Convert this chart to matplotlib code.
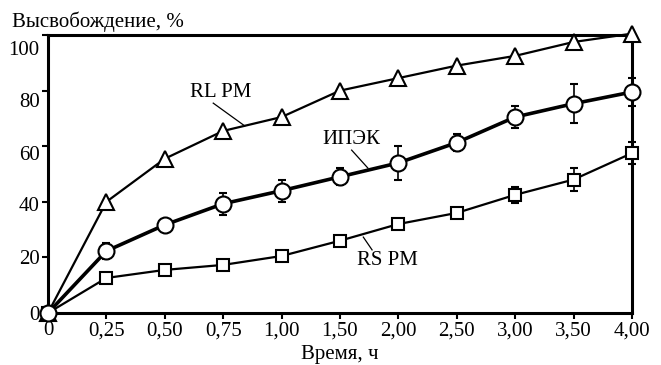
import matplotlib
matplotlib.use("Agg")
import matplotlib.pyplot as plt
from matplotlib.transforms import ScaledTranslation

plt.rcParams['font.family'] = ['Liberation Serif', 'DejaVu Serif']

tick_labels = ['0', '0,25', '0,50', '0,75', '1,00', '1,50', '2,00', '2,50', '3,00', '3,50', '4,00']
rl_pm = [0, 40, 55.5, 65.5, 70.5, 80, 84.5, 89, 92.5, 97.5, 100.5]
ipek = [0, 22.3, 31.7, 39.3, 44, 49, 54, 61.3, 70.5, 75.3, 79.5]
ipek_err = [0, 3, 0, 4, 4, 3, 6, 3, 4, 7, 5]
rs_pm = [0, 12.6, 15.5, 17.3, 20.5, 26, 32, 36, 42.5, 48, 57.5]
rs_err = [0, 0, 0, 0, 0, 0, 0, 0, 3, 4, 4]

x = list(range(len(tick_labels)))

fig = plt.figure(figsize=(6.61, 3.65), dpi=100)
ax = fig.add_axes([0.0726, 0.1425, 0.8834, 0.7615])

ax.plot(x, rl_pm, color='black', lw=1.6, marker='^', ms=12, mfc='white',
        mec='black', mew=1.5, clip_on=False, zorder=3)
ax.errorbar(x, rs_pm, yerr=rs_err, color='black', lw=1.6, marker='s', ms=9,
            mfc='white', mec='black', mew=1.5, capsize=3, elinewidth=1.2,
            clip_on=False, zorder=4)
ax.errorbar(x, ipek, yerr=ipek_err, color='black', lw=2.6, marker='o', ms=11.5,
            mfc='white', mec='black', mew=1.5, capsize=3, elinewidth=1.2,
            clip_on=False, zorder=5)

ax.set_xlim(0, 10)
ax.set_ylim(0, 100)
ax.set_xticks(x)
ax.set_xticklabels(tick_labels)
ax.set_yticks([0, 20, 40, 60, 80, 100])
ax.tick_params(labelsize=15, length=4, width=1.5, direction='out', pad=2)
for s in ax.spines.values():
    s.set_linewidth(2.2)

# the upper y labels sit a bit lower than their ticks in the original
shifts = [0, 0, 0.02, 0.07, 0.09, 0.13]
for lab, dy in zip(ax.get_yticklabels(), shifts):
    lab.set_transform(lab.get_transform() + ScaledTranslation(0, -dy, fig.dpi_scale_trans))

# curve labels with leader lines
ax.text(2.96, 79.3, 'RL PM', fontsize=15, ha='center', va='center')
ax.plot([2.83, 3.37], [75.5, 67.3], color='black', lw=0.9)
ax.text(5.2, 62.4, 'ИПЭК', fontsize=15, ha='center', va='center')
ax.plot([5.2, 5.48], [58.6, 52.1], color='black', lw=0.9)
ax.text(5.82, 19, 'RS PM', fontsize=15, ha='center', va='center')
ax.plot([5.4, 5.55], [27.3, 22.7], color='black', lw=0.9)

fig.text(0.018, 0.94, 'Высвобождение, %', fontsize=15, ha='left', va='center')
fig.text(0.514, 0.028, 'Время, ч', fontsize=15, ha='center', va='center')

fig.savefig('out.png', dpi=100)
